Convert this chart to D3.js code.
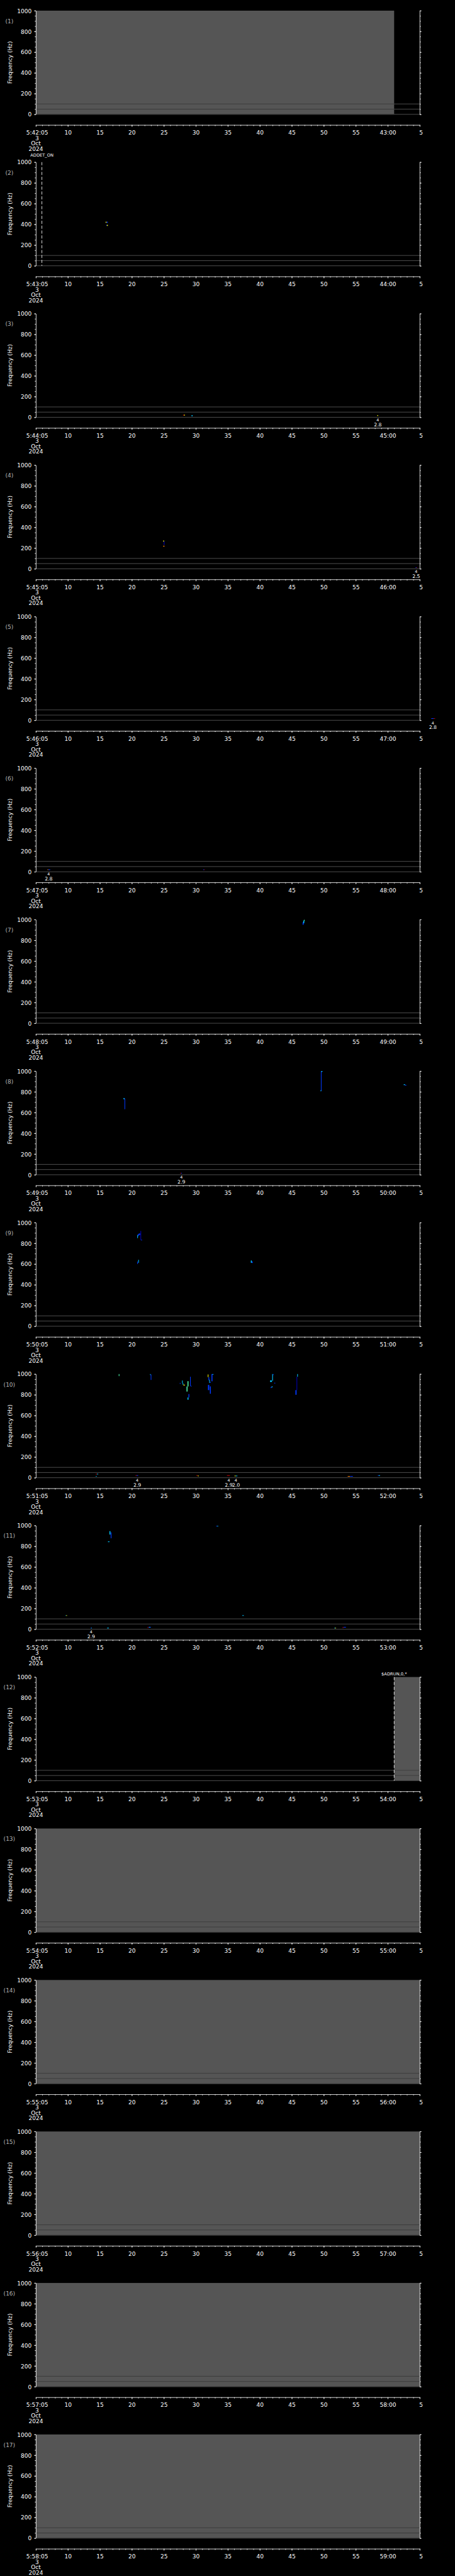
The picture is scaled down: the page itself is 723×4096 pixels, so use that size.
<!DOCTYPE html>
<html>
<head>
<meta charset="utf-8">
<script src="https://cdn.jsdelivr.net/npm/d3@7"></script>
<style>
  html, body { margin: 0; background: #000; }
  svg { display: block; background: #000; }
  text { font-family: "DejaVu Sans", sans-serif; }
</style>
</head>
<body>
<svg id="chart" width="723" height="4096" viewBox="0 0 1024 5802"></svg>
<script>
// one panel per minute, starting 5:MM:05 on 3 Oct 2024
const startMinutes = [42, 43, 44, 45, 46, 47, 48, 49, 50, 51, 52, 53, 54, 55, 56, 57, 58];
const freqTicks = [0, 200, 400, 600, 800, 1000];
const dateLines = ['3', 'Oct', '2024'];
const guideFreqs = [100, 50, 0];

// [panel, t0, t1] seconds after panel start, no-data (gray) blocks
const grayFills = [
  [1, 0, 56], [12, 56, 60], [13, 0, 60], [14, 0, 60], [15, 0, 60], [16, 0, 60], [17, 0, 60]
];

// [panel, t, label]
const events = [[2, 0.94, 'ADDET_ON'], [12, 56, '$ADRUN,0,*']];

// [panel, t, upper, lower]
const annotations = [
  [3, 53.45, '4', '2.8'], [4, 59.45, '4', '2.5'], [5, 62.05, '4', '2.8'], [6, 2.0, '4', '2.8'],
  [8, 22.74, '4', '2.9'], [10, 15.85, '4', '2.9'], [10, 30.14, '4', '2.9'], [10, 31.27, '4', '2.0'],
  [11, 8.64, '4', '2.9']
];

const B = '#0038ff', DB = '#0000c0', C = '#00c4ff', Y = '#ffff00', R = '#c80000', O = '#ff8000', G = '#50ffb0';

// [panel, t0, t1, f0, f1, colour]
const marks = [
  [2, 10.9, 11.05, 415, 425, Y], [2, 11.05, 11.25, 415, 425, B], [2, 11.0, 11.1, 385, 395, B], [2, 11.1, 11.25, 385, 395, Y],
  [3, 23.0, 23.15, 17, 25, R], [3, 23.15, 23.3, 17, 25, Y], [3, 24.33, 24.5, 10, 20, C], [3, 53.36, 53.5, 13, 21, Y],
  [4, 19.9, 20.05, 262, 272, Y], [4, 20.0, 20.1, 230, 265, DB], [4, 19.9, 20.1, 214, 222, O],
  [4, 59.35, 59.5, 9, 15, B], [4, 59.5, 59.6, 9, 15, R],
  [5, 61.8, 62.2, 14, 20, B], [5, 62.2, 62.4, 14, 20, R],
  [6, 1.8, 1.95, 17, 23, O], [6, 1.95, 2.25, 17, 23, B], [6, 26.15, 26.3, 17, 23, B], [6, 26.3, 26.4, 17, 23, R],
  [7, 41.7, 41.85, 950, 975, B], [7, 41.8, 41.95, 965, 990, C], [7, 41.9, 42.0, 985, 998, G],
  [8, 13.7, 13.85, 728, 740, C], [8, 13.85, 13.95, 632, 735, B],
  [8, 44.55, 44.65, 808, 1000, B], [8, 44.5, 44.6, 805, 815, C], [8, 44.6, 44.8, 992, 1000, C],
  [8, 57.5, 57.7, 865, 873, C], [8, 57.7, 57.9, 860, 867, B],
  [8, 22.56, 22.7, 12, 18, R], [8, 22.7, 22.83, 12, 18, B],
  [9, 15.85, 15.95, 850, 880, C], [9, 15.95, 16.1, 870, 890, B], [9, 16.1, 16.3, 880, 895, B],
  [9, 16.35, 16.45, 831, 919, DB], [9, 16.45, 16.6, 828, 834, B],
  [9, 16.0, 16.1, 612, 641, C], [9, 15.85, 15.95, 600, 624, B],
  [9, 33.6, 33.75, 612, 634, C], [9, 33.75, 33.9, 610, 625, B],
  [10, 12.95, 13.05, 980, 1000, G],
  [10, 17.85, 17.95, 990, 1000, C], [10, 17.95, 18.05, 943, 995, B],
  [10, 22.5, 22.6, 905, 915, B], [10, 22.85, 22.95, 910, 938, C], [10, 22.95, 23.05, 895, 912, C], [10, 23.05, 23.3, 890, 897, Y],
  [10, 23.55, 23.7, 831, 880, G], [10, 23.7, 23.85, 880, 931, G],
  [10, 23.7, 23.85, 752, 774, C], [10, 23.85, 23.98, 774, 807, B],
  [10, 24.1, 24.2, 885, 974, B], [10, 24.2, 24.33, 880, 887, B],
  [10, 26.87, 26.97, 970, 996, Y], [10, 26.97, 27.1, 940, 970, B], [10, 27.1, 27.2, 914, 946, C], [10, 27.2, 27.3, 914, 925, B],
  [10, 26.9, 27.1, 845, 895, B], [10, 27.2, 27.35, 810, 881, B],
  [10, 27.45, 27.6, 930, 1000, B], [10, 27.6, 27.75, 993, 1000, C],
  [10, 36.6, 36.9, 924, 938, C], [10, 36.94, 37.05, 935, 1000, C], [10, 37.05, 37.15, 990, 1000, B],
  [10, 37.3, 37.4, 907, 917, B], [10, 36.7, 36.85, 865, 875, B], [10, 36.85, 37.0, 872, 881, C],
  [10, 40.85, 40.95, 974, 1000, C], [10, 40.75, 40.8, 845, 974, DB], [10, 40.57, 40.75, 800, 845, B],
  [10, 9.36, 9.55, 33, 38, R], [10, 9.55, 9.75, 33, 38, C], [10, 9.36, 9.5, 11, 16, C],
  [10, 15.58, 15.75, 19, 24, R], [10, 15.75, 15.99, 19, 24, B],
  [10, 25.1, 25.3, 19, 24, R], [10, 25.3, 25.47, 15, 20, Y],
  [10, 29.87, 30.32, 19, 24, R],
  [10, 31.05, 31.25, 15, 20, Y], [10, 31.25, 31.5, 15, 20, C],
  [10, 48.74, 49.1, 11, 16, O], [10, 49.1, 49.55, 11, 16, B],
  [10, 53.45, 53.6, 19, 24, B], [10, 53.6, 53.8, 19, 24, C],
  [11, 11.5, 11.65, 913, 946, C], [11, 11.7, 11.81, 877, 934, B], [11, 11.27, 11.5, 840, 847, C],
  [11, 28.19, 28.35, 991, 997, B], [11, 28.35, 28.5, 991, 997, C],
  [11, 4.65, 4.75, 129, 135, C], [11, 4.75, 4.87, 129, 135, Y],
  [11, 32.27, 32.5, 129, 135, C],
  [11, 8.55, 8.65, 8, 14, B], [11, 8.65, 8.73, 8, 14, C],
  [11, 11.13, 11.41, 8, 14, C],
  [11, 17.44, 17.6, 14, 19, R], [11, 17.6, 17.98, 16, 22, B], [11, 17.7, 17.85, 17, 22, C],
  [11, 46.65, 46.8, 8, 14, C], [11, 46.8, 46.92, 8, 14, Y],
  [11, 47.92, 48.1, 14, 19, R], [11, 48.1, 48.47, 17, 22, B]
];

const svg = d3.select('#chart');
const left = 80.7, right = 944.7;
const firstTop = 24, step = 341.2, panelH = 233.5;
const fontSize = 12.8;

const x = d3.scaleLinear().domain([0, 60]).range([left, right]);

function timeLabel(m) {
  return v => {
    if (v === 0) return `5:${m}:05`;
    const s = (v + 5) % 60;
    return s === 0 ? `${m + 1}:00` : String(s);
  };
}

function styleAxis(g, size) {
  g.attr('font-family', null).attr('font-size', null);
  g.selectAll('path, line').attr('stroke', '#fff').attr('stroke-width', 1.2);
  g.selectAll('text').attr('fill', '#fff').style('font-size', size + 'px');
}

startMinutes.forEach((m, i) => {
  const panel = i + 1;
  const top = firstTop + step * i;
  const bottom = top + panelH;
  const y = d3.scaleLinear().domain([0, 1000]).range([bottom, top]);
  const g = svg.append('g');

  const fills = grayFills.filter(d => d[0] === panel);
  fills.forEach(d => {
    g.append('rect')
      .attr('x', x(d[1])).attr('y', top)
      .attr('width', x(d[2]) - x(d[1])).attr('height', panelH)
      .attr('fill', '#555555');
  });

  guideFreqs.forEach(f => {
    g.append('line')
      .attr('x1', left).attr('x2', right)
      .attr('y1', y(f)).attr('y2', y(f))
      .attr('stroke', '#5a5a5a').attr('stroke-width', 1.2);
    fills.forEach(d => {
      g.append('line')
        .attr('x1', x(d[1])).attr('x2', x(d[2]))
        .attr('y1', y(f)).attr('y2', y(f))
        .attr('stroke', '#383838').attr('stroke-width', 1.2);
    });
  });

  // spectral marks
  g.selectAll('rect.mark')
    .data(marks.filter(d => d[0] === panel))
    .enter()
    .append('rect')
    .attr('class', 'mark')
    .attr('x', d => x(d[1]))
    .attr('y', d => y(d[4]))
    .attr('width', d => Math.max(x(d[2]) - x(d[1]), 1.4))
    .attr('height', d => Math.max(y(d[3]) - y(d[4]), 1.4))
    .attr('fill', d => d[5]);

  // event markers
  events.filter(d => d[0] === panel).forEach(d => {
    const lift = d[2] === 'ADDET_ON' ? 13 : 3.5;
    g.append('line')
      .attr('x1', x(d[1])).attr('x2', x(d[1]))
      .attr('y1', top).attr('y2', bottom)
      .attr('stroke', '#fff').attr('stroke-width', 1.2)
      .attr('stroke-dasharray', '7,4');
    g.append('text')
      .attr('x', x(d[1])).attr('y', top - lift)
      .attr('text-anchor', 'middle')
      .attr('fill', '#fff').style('font-size', '9.5px')
      .text(d[2]);
  });

  // small annotations below the plot
  annotations.filter(d => d[0] === panel).forEach(d => {
    g.append('text')
      .attr('x', x(d[1])).attr('y', bottom + 9)
      .attr('text-anchor', 'middle').attr('fill', '#fff')
      .style('font-size', '9px').text(d[2]);
    g.append('text')
      .attr('x', x(d[1])).attr('y', bottom + 20)
      .attr('text-anchor', 'middle').attr('fill', '#fff')
      .style('font-size', '11px').text(d[3]);
  });

  // left frequency axis
  const minorF = d3.range(0, 1001, 50);
  const la = g.append('g').attr('transform', `translate(${left},0)`)
    .call(d3.axisLeft(y).tickValues(minorF).tickSize(2.5).tickSizeOuter(0).tickFormat(''));
  styleAxis(la, fontSize);
  const lb = g.append('g').attr('transform', `translate(${left},0)`)
    .call(d3.axisLeft(y).tickValues(freqTicks).tickSize(4).tickSizeOuter(0).tickPadding(5.5)
      .tickFormat(d3.format('d')));
  styleAxis(lb, fontSize);
  lb.select('.domain').remove();
  lb.selectAll('text').attr('dy', '0.36em');

  // right frequency axis (no labels)
  const ra = g.append('g').attr('transform', `translate(${right},0)`)
    .call(d3.axisRight(y).tickValues(minorF).tickSize(2.5).tickSizeOuter(0).tickFormat(''));
  styleAxis(ra, fontSize);
  const rb = g.append('g').attr('transform', `translate(${right},0)`)
    .call(d3.axisRight(y).tickValues(freqTicks).tickSize(4).tickSizeOuter(0).tickFormat(''));
  styleAxis(rb, fontSize);
  rb.select('.domain').remove();

  // time axis
  const axisY = bottom + 24;
  const tm = g.append('g').attr('transform', `translate(0,${axisY})`)
    .call(d3.axisBottom(x).tickValues(d3.range(0, 61, 1)).tickSize(2.5).tickSizeOuter(0).tickFormat(''));
  styleAxis(tm, fontSize);
  const tb = g.append('g').attr('transform', `translate(0,${axisY})`)
    .call(d3.axisBottom(x).tickValues(d3.range(0, 61, 5)).tickSize(4).tickSizeOuter(0)
      .tickPadding(9).tickFormat(timeLabel(m)));
  styleAxis(tb, fontSize);
  tb.select('.domain').remove();
  tb.selectAll('text').filter((d, k) => k === 0).attr('dx', '2.5');
  tb.selectAll('text').filter(d => d === 60).attr('dx', '2.5');

  dateLines.forEach((t, k) => {
    g.append('text')
      .attr('x', left + (k === 0 ? 2.5 : 0)).attr('y', bottom + 58 + k * 12)
      .attr('text-anchor', 'middle').attr('fill', '#fff')
      .style('font-size', fontSize + 'px').text(t);
  });

  // panel number and y title
  g.append('text')
    .attr('x', 21).attr('y', top + 28)
    .attr('text-anchor', 'middle').attr('fill', '#b4b4b4')
    .style('font-size', fontSize + 'px').text(`(${panel})`);
  g.append('text')
    .attr('transform', `translate(26.5,${top + panelH / 2}) rotate(-90)`)
    .attr('text-anchor', 'middle').attr('fill', '#fff')
    .style('font-size', fontSize + 'px').text('Frequency (Hz)');
});
</script>
</body>
</html>
